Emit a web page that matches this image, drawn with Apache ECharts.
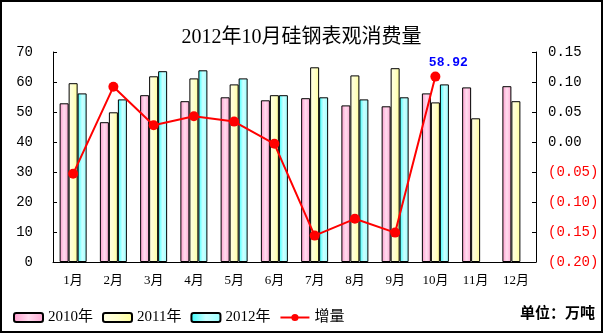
<!DOCTYPE html>
<html><head><meta charset="utf-8">
<script src="https://cdn.jsdelivr.net/npm/echarts@6/dist/echarts.min.js"></script>
<style>html,body{margin:0;padding:0;background:#fff}#c{width:603px;height:333px}</style>
</head><body><div id="c"></div>
<script>
var categories = ['1月','2月','3月','4月','5月','6月','7月','8月','9月','10月','11月','12月'];
var s2010 = [52.9, 46.6, 55.6, 53.6, 54.9, 53.9, 54.6, 52.2, 51.9, 56.2, 58.2, 58.6];
var s2011 = [59.6, 49.9, 61.9, 61.2, 59.2, 55.6, 64.9, 62.2, 64.6, 53.2, 47.9, 53.6];
var s2012 = [56.2, 54.2, 63.6, 63.9, 61.2, 55.6, 54.9, 54.2, 54.9, 59.2, null, null];
var growth = [-0.053, 0.092, 0.028, 0.043, 0.034, -0.003, -0.156, -0.128, -0.151, 0.109, null, null];
var annotateIndex = 9;
var annotateText = '58.92';
var seriesNames = ['2010年','2011年','2012年','增量'];
var titleText = '2012年10月硅钢表观消费量';
var unitText = '单位：万吨';

var serif = "'Liberation Serif','Noto Sans CJK SC',serif";
var mono = "'Liberation Mono','Noto Sans CJK SC',monospace";
function grad(a,b,c){return {type:'linear',x:0,y:0,x2:1,y2:0,colorStops:[{offset:0,color:a},{offset:0.5,color:b},{offset:1,color:c}]};}
function barSeries(name,data,fill){
  return {name:name,type:'bar',data:data,barWidth:9,barGap:'0%',barCategoryGap:'30%',
    itemStyle:{color:fill,borderColor:'#000',borderWidth:1}};
}
var lineData = growth.map(function(v,i){
  var d = {value:v};
  if(i===annotateIndex){d.label={show:true,formatter:annotateText,position:'top',offset:[13,3],color:'#0000ff',fontWeight:'bold',fontSize:13,fontFamily:mono};}
  return d;
});
var chart = echarts.init(document.getElementById('c'));
chart.setOption({
  animation:false,
  title:{text:titleText,left:'center',top:23,textStyle:{fontSize:20,fontWeight:'normal',color:'#000',fontFamily:serif}},
  grid:{left:53,right:67,top:52,bottom:71},
  legend:{data:seriesNames,left:8,top:305,itemWidth:29,itemHeight:9,itemGap:9,
    textStyle:{fontSize:15,color:'#000',fontFamily:serif}},
  graphic:[
    {type:'rect',shape:{x:1,y:1,width:601,height:331},style:{fill:'none',stroke:'#000',lineWidth:2},silent:true},
    {type:'text',right:8,top:305,style:{text:unitText,font:"bold 15px 'Noto Sans CJK SC'",fill:'#000'}}
  ],
  xAxis:{type:'category',data:categories,
    axisLine:{lineStyle:{color:'#000',width:1}},
    axisTick:{inside:true,length:4,lineStyle:{color:'#000'}},
    axisLabel:{margin:12,fontSize:13,color:'#000',fontFamily:serif}},
  yAxis:[
    {type:'value',min:0,max:70,interval:10,splitLine:{show:false},
      axisLine:{show:true,lineStyle:{color:'#000'}},
      axisTick:{show:true,inside:true,length:4,lineStyle:{color:'#000'}},
      axisLabel:{margin:20,fontSize:14,color:'#000',fontFamily:mono}},
    {type:'value',min:-0.2,max:0.15,interval:0.05,splitLine:{show:false},
      axisLine:{show:true,lineStyle:{color:'#000'}},
      axisTick:{show:true,inside:true,length:4,lineStyle:{color:'#000'}},
      axisLabel:{margin:12,fontSize:14,fontFamily:mono,
        formatter:function(v){var r=Math.round(v*100)/100;return r<0?'('+Math.abs(r).toFixed(2)+')':r.toFixed(2);},
        color:function(v){return Math.round(v*100)/100<0?'#ff0000':'#000';}}}
  ],
  series:[
    barSeries(seriesNames[0],s2010,grad('#ff99cc','#ffdcee','#ffa8d3')),
    barSeries(seriesNames[1],s2011,grad('#ffffe6','#ffffcc','#ffff99')),
    barSeries(seriesNames[2],s2012,grad('#33ffff','#ccffff','#99ffff')),
    {name:seriesNames[3],type:'line',yAxisIndex:1,data:lineData,symbol:'circle',symbolSize:10,
      lineStyle:{color:'#ff0000',width:2},itemStyle:{color:'#ff0000'}}
  ]
});
</script></body></html>
